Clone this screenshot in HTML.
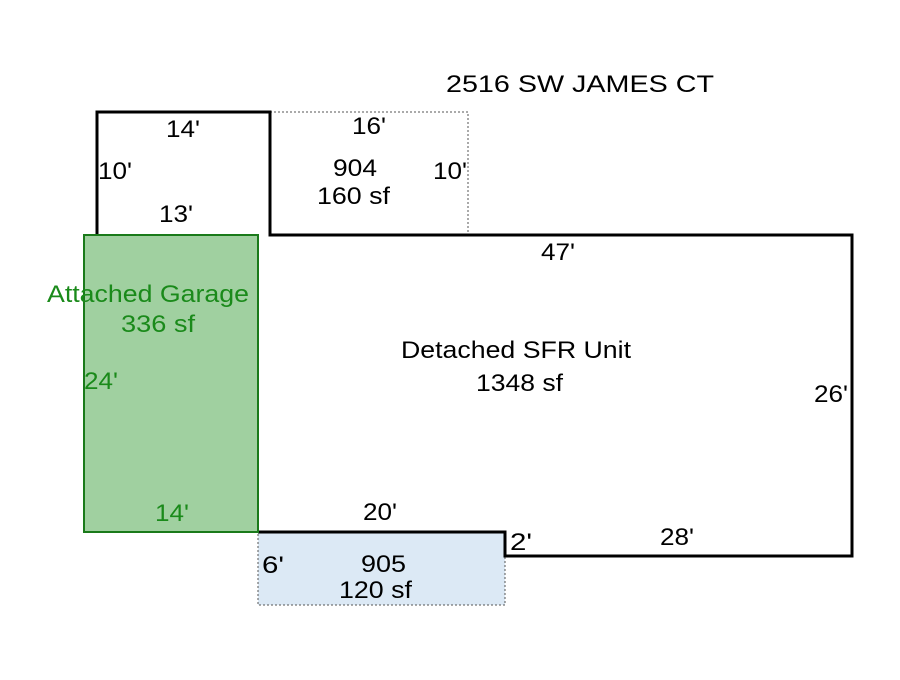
<!DOCTYPE html>
<html><head><style>body{margin:0;background:#fff}svg text{font-family:"Liberation Sans",sans-serif;font-size:24px}</style></head><body>
<svg width="900" height="675" viewBox="0 0 900 675">
<rect x="270" y="112" width="198" height="123" fill="none" stroke="#555" stroke-width="1" stroke-dasharray="2,2"/>
<rect x="258" y="532" width="247" height="73" fill="#dce9f5" stroke="#555" stroke-width="1" stroke-dasharray="2,2"/>
<polyline points="97,235 97,112 270,112 270,235 852,235 852,556 505,556 505,532 258,532" fill="none" stroke="#000" stroke-width="3"/>
<rect x="84" y="235" width="174" height="297" fill="#a0d0a0" stroke="#1a7a1a" stroke-width="2"/>
<g lengthAdjust="spacingAndGlyphs">
<text x="446" y="92" textLength="268" lengthAdjust="spacingAndGlyphs">2516 SW JAMES CT</text>
<g fill="#000">
<text x="166" y="137" textLength="34" lengthAdjust="spacingAndGlyphs">14'</text><text x="352" y="134" textLength="34" lengthAdjust="spacingAndGlyphs">16'</text>
<text x="98" y="179" textLength="34" lengthAdjust="spacingAndGlyphs">10'</text><text x="333" y="176" textLength="44" lengthAdjust="spacingAndGlyphs">904</text><text x="433" y="179" textLength="34" lengthAdjust="spacingAndGlyphs">10'</text>
<text x="317" y="204" textLength="73" lengthAdjust="spacingAndGlyphs">160 sf</text><text x="159" y="222" textLength="34" lengthAdjust="spacingAndGlyphs">13'</text>
<text x="541" y="260" textLength="34" lengthAdjust="spacingAndGlyphs">47'</text>
<text x="401" y="358" textLength="230" lengthAdjust="spacingAndGlyphs">Detached SFR Unit</text><text x="476" y="391" textLength="87" lengthAdjust="spacingAndGlyphs">1348 sf</text>
<text x="814" y="402" textLength="34" lengthAdjust="spacingAndGlyphs">26'</text>
<text x="363" y="520" textLength="34" lengthAdjust="spacingAndGlyphs">20'</text><text x="510" y="550" textLength="22" lengthAdjust="spacingAndGlyphs">2'</text><text x="660" y="545" textLength="34" lengthAdjust="spacingAndGlyphs">28'</text>
<text x="262" y="573" textLength="22" lengthAdjust="spacingAndGlyphs">6'</text><text x="361" y="572" textLength="45" lengthAdjust="spacingAndGlyphs">905</text><text x="339" y="598" textLength="73" lengthAdjust="spacingAndGlyphs">120 sf</text>
</g>
<g fill="#1a8a1a">
<text x="47" y="302" textLength="202" lengthAdjust="spacingAndGlyphs">Attached Garage</text><text x="121" y="332" textLength="74" lengthAdjust="spacingAndGlyphs">336 sf</text>
<text x="84" y="389" textLength="34" lengthAdjust="spacingAndGlyphs">24'</text><text x="155" y="521" textLength="34" lengthAdjust="spacingAndGlyphs">14'</text>
</g>
</g>
</svg>
</body></html>
